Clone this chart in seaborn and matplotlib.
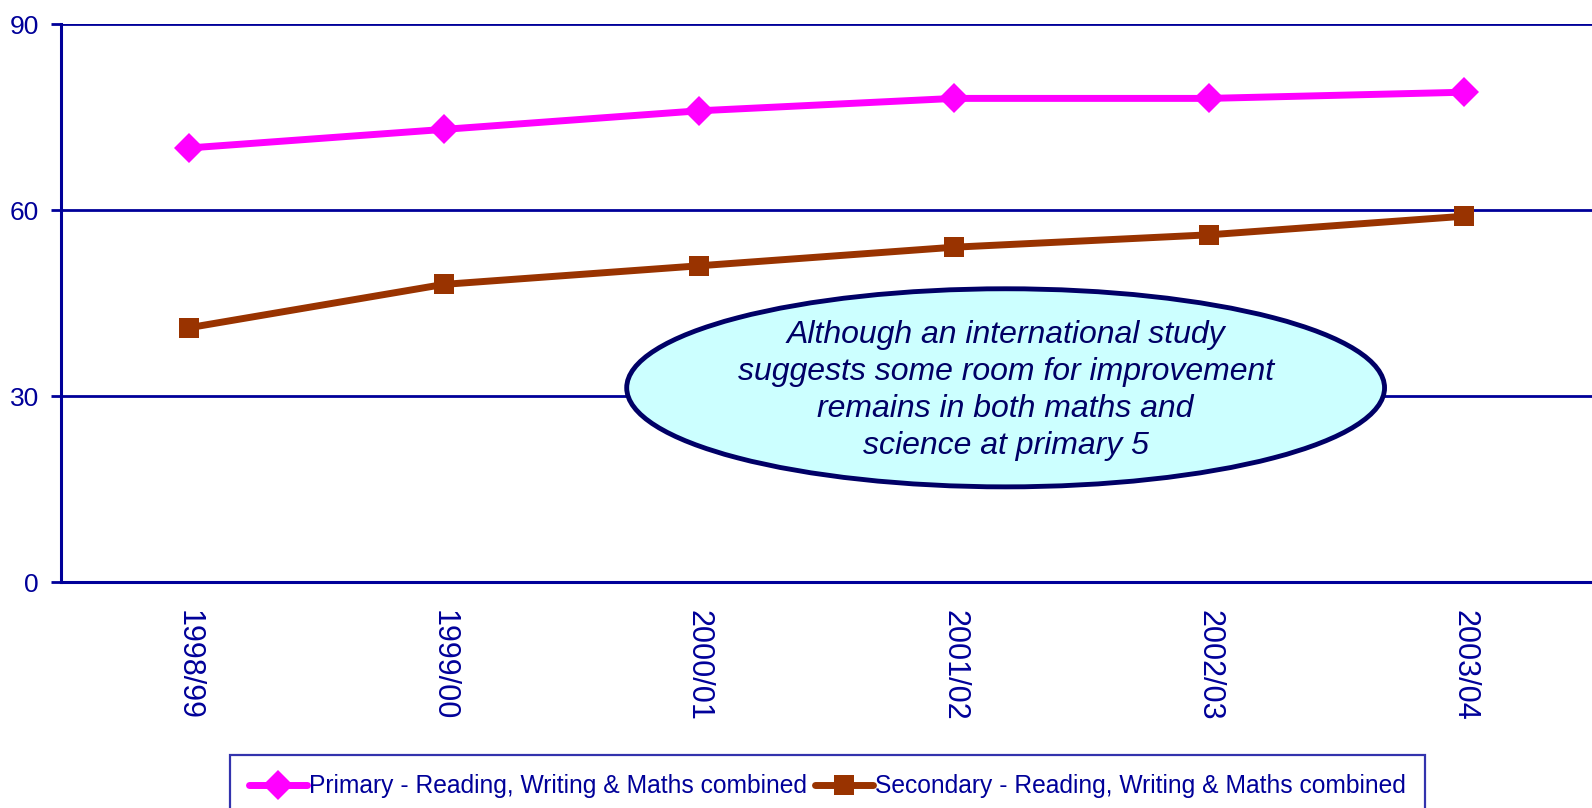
"""Primary vs secondary attainment, 1998/99 - 2003/04."""
import matplotlib
matplotlib.use("Agg")
import matplotlib.pyplot as plt
import pandas as pd
import seaborn as sns
from matplotlib import font_manager
from matplotlib.patches import Ellipse

years = ["1998/99", "1999/00", "2000/01", "2001/02", "2002/03", "2003/04"]
primary = [70, 73, 76, 78, 78, 79]
secondary = [41, 48, 51, 54, 56, 59]
series_names = [
    "Primary - Reading, Writing & Maths combined",
    "Secondary - Reading, Writing & Maths combined",
]
y_ticks = [0, 30, 60, 90]
note = ("Although an international study\n"
        "suggests some room for improvement\n"
        "remains in both maths and\n"
        "science at primary 5")

NAVY = "#000099"
colors = {series_names[0]: "#FF00FF", series_names[1]: "#993300"}
markers = {series_names[0]: "D", series_names[1]: "s"}

df = pd.DataFrame({
    "year": years * 2,
    "value": primary + secondary,
    "series": [series_names[0]] * len(years) + [series_names[1]] * len(years),
})

sns.set_style("white")
try:
    font_manager.findfont("Liberation Sans Narrow", fallback_to_default=False)
    narrow = True
except ValueError:
    narrow = False

if narrow:
    plt.rcParams["font.family"] = ["Liberation Sans Narrow", "DejaVu Sans"]
    fs_y, fs_x, fs_leg, fs_note, note_ls = 21, 25, 21, 28, 1.1
else:
    plt.rcParams["font.family"] = ["Liberation Sans", "DejaVu Sans"]
    fs_y, fs_x, fs_leg, fs_note, note_ls = 19, 22, 17.7, 23, 1.31

fig = plt.figure(figsize=(15.92, 8.08), dpi=100)
ax = fig.add_axes([61 / 1592, 1 - 582 / 808, 1 - 61 / 1592, 558 / 808])

sns.lineplot(
    data=df, x="year", y="value", hue="series", style="series",
    palette=colors, markers=markers, dashes=False, sort=False,
    linewidth=5, markersize=15, markeredgewidth=0, legend=False, ax=ax,
)

ax.set_xlim(-0.5, len(years) - 0.5)
ax.set_ylim(0, 90)
ax.set_yticks(y_ticks)
ax.set_xlabel("")
ax.set_ylabel("")
ax.grid(axis="y", color=NAVY, linewidth=2)
ax.set_axisbelow(True)
for side in ("top", "right"):
    ax.spines[side].set_visible(False)
for side in ("left", "bottom"):
    ax.spines[side].set_color(NAVY)
    ax.spines[side].set_linewidth(2.2)
ax.tick_params(axis="y", colors=NAVY, labelsize=fs_y, length=7, width=2,
               pad=9, left=True)
ax.tick_params(axis="x", colors=NAVY, labelsize=fs_x, length=0, pad=20)
plt.setp(ax.get_xticklabels(), rotation=270)

# callout ellipse
ax.add_patch(Ellipse((0.617, 0.348), 0.495, 0.355, transform=ax.transAxes,
                     facecolor="#CCFFFF", edgecolor="#000066", linewidth=3.5,
                     zorder=5, clip_on=False))
ax.text(0.617, 0.343, note, transform=ax.transAxes, ha="center", va="center",
        fontsize=fs_note, style="italic", color="#000066",
        linespacing=note_ls, zorder=6)

handles = ax.lines[:2]
leg = fig.legend(
    handles, series_names, loc="upper left",
    bbox_to_anchor=(230 / 1592, 1 - 755 / 808), ncol=2,
    fontsize=fs_leg, frameon=True, fancybox=False, borderpad=0.78,
    handlelength=2.35, handletextpad=0.1, columnspacing=0.3,
    borderaxespad=0,
)
leg.get_frame().set_edgecolor(NAVY)
leg.get_frame().set_linewidth(1.6)
for t in leg.get_texts():
    t.set_color(NAVY)

fig.savefig("out.png", dpi=100, facecolor="white")
